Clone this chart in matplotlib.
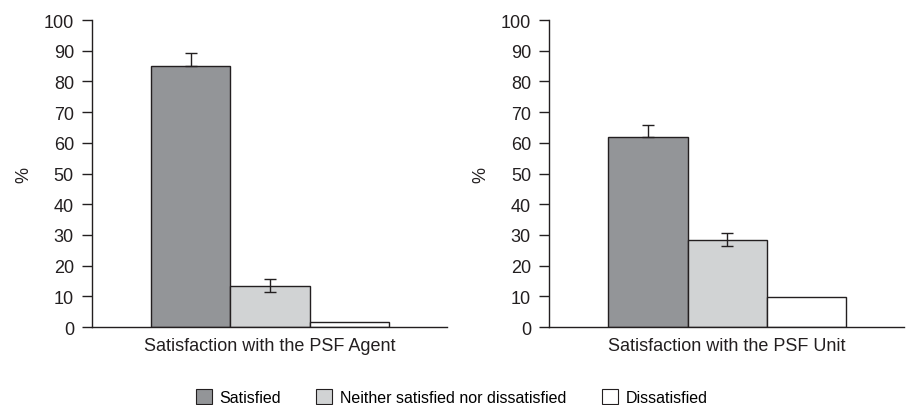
import numpy as np
import matplotlib.pyplot as plt
from matplotlib.patches import Patch

plt.rcParams['font.family'] = ['Liberation Sans', 'DejaVu Sans']

# Data
categories = ['Satisfied', 'Neither satisfied nor dissatisfied', 'Dissatisfied']
panels = ['Satisfaction with the PSF Agent', 'Satisfaction with the PSF Unit']
agent_values = [85.0, 13.5, 1.7]
agent_err = [4.3, 2.0, 0.0]
unit_values = [62.0, 28.5, 9.8]
unit_err = [3.8, 2.0, 0.0]
colors = ['#939598', '#d1d3d4', '#ffffff']
edge = '#231f20'

fig = plt.figure(figsize=(9.07, 4.06), dpi=100)
ax1 = fig.add_axes([0.1014, 0.192, 0.391, 0.756])
ax2 = fig.add_axes([0.6053, 0.192, 0.391, 0.756])

for ax, vals, errs, title in [(ax1, agent_values, agent_err, panels[0]),
                              (ax2, unit_values, unit_err, panels[1])]:
    x = np.arange(len(vals))
    ax.bar(x, vals, width=1.0, color=colors, edgecolor=edge, linewidth=1.0, zorder=2)
    # satisfied bar: only upper whisker visible, middle bar: both sides
    lower = [0, errs[1], 0]
    upper = [errs[0], errs[1], 0]
    mask = [e > 0 for e in errs]
    ax.errorbar(x[mask], np.array(vals)[mask],
                yerr=[np.array(lower)[mask], np.array(upper)[mask]],
                fmt='none', ecolor=edge, elinewidth=1.0, capsize=4, capthick=1.0, zorder=3)
    ax.set_xlim(-1.25, 3.23)
    ax.set_ylim(0, 100)
    ax.set_yticks(range(0, 101, 10))
    ax.set_xticks([])
    ax.set_xlabel(title, fontsize=13, color=edge, labelpad=7)
    ax.set_ylabel('%', fontsize=13, color=edge, labelpad=8)
    ax.tick_params(axis='y', direction='out', length=7, width=1.0, pad=6,
                   labelsize=13, colors=edge)
    for s in ['top', 'right']:
        ax.spines[s].set_visible(False)
    for s in ['left', 'bottom']:
        ax.spines[s].set_linewidth(1.0)
        ax.spines[s].set_color(edge)

handles = [Patch(facecolor=c, edgecolor=edge, linewidth=0.8) for c in colors]
fig.legend(handles, categories, loc='lower center', bbox_to_anchor=(0.498, -0.035),
           ncol=3, frameon=False, fontsize=11.5, handlelength=1.0, handleheight=1.0,
           handletextpad=0.5, columnspacing=2.2)

fig.savefig('out.png', dpi=100)
